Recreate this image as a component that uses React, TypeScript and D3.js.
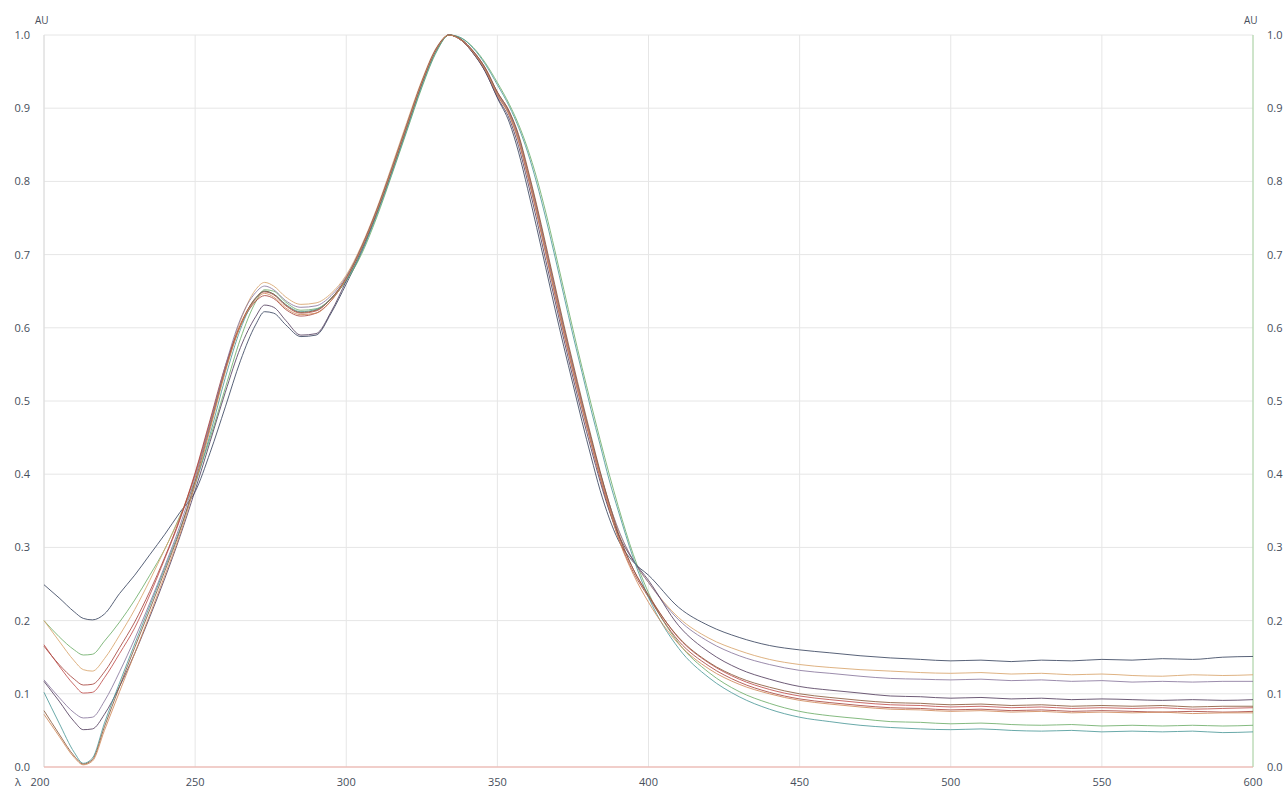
import React, { useEffect, useRef } from 'react'
import * as d3 from 'd3'

// wavelength grid shared by all spectra (nm)
const wavelengths = [200, 205, 210, 213, 216, 220, 225, 230, 235, 240, 245, 250, 255, 260, 265, 270, 273, 276, 280, 285, 290, 295, 300, 305, 310, 315, 320, 325, 330, 334, 338, 342, 346, 350, 354, 357, 360, 363, 366, 369, 372, 375, 378, 381, 384, 387, 390, 395, 400, 410, 420, 430, 440, 450, 460, 470, 480, 490, 500, 510, 520, 530, 540, 550, 560, 570, 580, 590, 600]

const spec1 = [0.249, 0.231, 0.212, 0.203, 0.201, 0.209, 0.237, 0.262, 0.29, 0.318, 0.348, 0.376, 0.43, 0.492, 0.555, 0.604, 0.622, 0.62, 0.604, 0.588, 0.59, 0.62, 0.66, 0.703, 0.755, 0.813, 0.873, 0.933, 0.981, 1.0, 0.993, 0.975, 0.95, 0.914, 0.88, 0.84, 0.79, 0.737, 0.682, 0.627, 0.574, 0.523, 0.472, 0.424, 0.378, 0.34, 0.31, 0.28, 0.262, 0.218, 0.193, 0.177, 0.166, 0.16, 0.156, 0.152, 0.149, 0.147, 0.145, 0.146, 0.144, 0.146, 0.145, 0.147, 0.146, 0.148, 0.147, 0.15, 0.151]
const spec2 = [0.2, 0.178, 0.16, 0.153, 0.154, 0.172, 0.198, 0.228, 0.262, 0.298, 0.343, 0.39, 0.45, 0.518, 0.585, 0.635, 0.652, 0.65, 0.635, 0.624, 0.626, 0.64, 0.664, 0.7, 0.75, 0.808, 0.868, 0.928, 0.978, 1.0, 0.996, 0.983, 0.962, 0.935, 0.905, 0.878, 0.845, 0.805, 0.758, 0.706, 0.652, 0.598, 0.546, 0.496, 0.447, 0.4, 0.356, 0.29, 0.238, 0.169, 0.129, 0.103, 0.087, 0.076, 0.07, 0.066, 0.062, 0.061, 0.059, 0.06, 0.058, 0.057, 0.058, 0.056, 0.057, 0.056, 0.057, 0.056, 0.057]
const spec3 = [0.2, 0.172, 0.145, 0.133, 0.131, 0.148, 0.18, 0.215, 0.255, 0.298, 0.342, 0.398, 0.468, 0.545, 0.61, 0.652, 0.662, 0.657, 0.642, 0.632, 0.634, 0.647, 0.672, 0.712, 0.762, 0.82, 0.88, 0.938, 0.984, 1.0, 0.994, 0.977, 0.953, 0.92, 0.892, 0.858, 0.81, 0.76, 0.705, 0.65, 0.596, 0.545, 0.495, 0.447, 0.402, 0.36, 0.324, 0.282, 0.252, 0.204, 0.176, 0.159, 0.147, 0.14, 0.136, 0.133, 0.131, 0.129, 0.128, 0.129, 0.127, 0.128, 0.126, 0.127, 0.125, 0.124, 0.126, 0.125, 0.126]
const spec4 = [0.167, 0.138, 0.112, 0.101, 0.102, 0.122, 0.155, 0.19, 0.235, 0.285, 0.338, 0.4, 0.472, 0.545, 0.605, 0.64, 0.649, 0.645, 0.63, 0.62, 0.623, 0.64, 0.668, 0.71, 0.76, 0.817, 0.877, 0.936, 0.983, 1.0, 0.994, 0.978, 0.955, 0.922, 0.895, 0.862, 0.815, 0.765, 0.71, 0.655, 0.6, 0.548, 0.497, 0.448, 0.4, 0.356, 0.318, 0.27, 0.235, 0.176, 0.142, 0.12, 0.106, 0.097, 0.092, 0.088, 0.085, 0.084, 0.082, 0.083, 0.081, 0.082, 0.08, 0.081, 0.08, 0.081, 0.079, 0.08, 0.081]
const spec5 = [0.165, 0.14, 0.12, 0.112, 0.113, 0.13, 0.163, 0.198, 0.24, 0.287, 0.34, 0.402, 0.475, 0.548, 0.603, 0.636, 0.644, 0.64, 0.625, 0.616, 0.62, 0.637, 0.667, 0.708, 0.757, 0.814, 0.874, 0.934, 0.982, 1.0, 0.993, 0.976, 0.952, 0.918, 0.89, 0.855, 0.808, 0.757, 0.702, 0.646, 0.592, 0.54, 0.49, 0.442, 0.395, 0.352, 0.314, 0.266, 0.232, 0.172, 0.138, 0.116, 0.102, 0.093, 0.088, 0.084, 0.081, 0.08, 0.078, 0.079, 0.077, 0.078, 0.076, 0.077, 0.076, 0.075, 0.076, 0.075, 0.076]
const spec6 = [0.119, 0.095, 0.074, 0.067, 0.068, 0.09, 0.13, 0.175, 0.224, 0.275, 0.33, 0.395, 0.47, 0.548, 0.612, 0.648, 0.657, 0.652, 0.637, 0.628, 0.63, 0.644, 0.67, 0.71, 0.76, 0.817, 0.877, 0.936, 0.983, 1.0, 0.994, 0.977, 0.954, 0.92, 0.893, 0.86, 0.812, 0.762, 0.707, 0.652, 0.598, 0.546, 0.496, 0.448, 0.402, 0.36, 0.325, 0.282, 0.252, 0.201, 0.171, 0.152, 0.14, 0.132, 0.128, 0.124, 0.121, 0.12, 0.119, 0.12, 0.118, 0.119, 0.117, 0.118, 0.116, 0.117, 0.116, 0.117, 0.117]
const spec7 = [0.117, 0.09, 0.062, 0.051, 0.052, 0.072, 0.11, 0.155, 0.205, 0.258, 0.315, 0.378, 0.445, 0.512, 0.573, 0.615, 0.631, 0.628, 0.61, 0.59, 0.592, 0.622, 0.664, 0.706, 0.757, 0.814, 0.874, 0.934, 0.982, 1.0, 0.993, 0.975, 0.95, 0.915, 0.885, 0.848, 0.8, 0.748, 0.692, 0.638, 0.584, 0.532, 0.482, 0.435, 0.39, 0.35, 0.318, 0.282, 0.255, 0.193, 0.157, 0.134, 0.12, 0.11, 0.105, 0.101, 0.097, 0.096, 0.094, 0.095, 0.093, 0.094, 0.092, 0.093, 0.092, 0.091, 0.092, 0.091, 0.092]
const spec8 = [0.102, 0.06, 0.02, 0.005, 0.012, 0.06, 0.115, 0.168, 0.22, 0.272, 0.325, 0.385, 0.455, 0.532, 0.598, 0.64, 0.65, 0.646, 0.632, 0.622, 0.625, 0.64, 0.665, 0.703, 0.753, 0.81, 0.87, 0.93, 0.979, 1.0, 0.996, 0.982, 0.96, 0.932, 0.902, 0.874, 0.84, 0.798, 0.75, 0.698, 0.644, 0.59, 0.539, 0.488, 0.44, 0.392, 0.35, 0.285, 0.232, 0.162, 0.122, 0.096, 0.079, 0.068, 0.062, 0.057, 0.054, 0.052, 0.051, 0.052, 0.05, 0.049, 0.05, 0.048, 0.049, 0.048, 0.049, 0.047, 0.048]
const spec9 = [0.077, 0.045, 0.015, 0.004, 0.01, 0.055, 0.11, 0.163, 0.215, 0.268, 0.323, 0.39, 0.465, 0.542, 0.603, 0.641, 0.65, 0.646, 0.631, 0.621, 0.624, 0.64, 0.668, 0.709, 0.759, 0.816, 0.876, 0.935, 0.982, 1.0, 0.994, 0.978, 0.955, 0.922, 0.895, 0.864, 0.818, 0.768, 0.714, 0.659, 0.604, 0.552, 0.501, 0.452, 0.404, 0.36, 0.32, 0.27, 0.234, 0.177, 0.143, 0.122, 0.109, 0.1, 0.095, 0.091, 0.088, 0.087, 0.085, 0.086, 0.084, 0.085, 0.083, 0.084, 0.083, 0.084, 0.082, 0.083, 0.083]
const spec10 = [0.072, 0.042, 0.013, 0.003, 0.008, 0.05, 0.103, 0.155, 0.208, 0.262, 0.318, 0.386, 0.462, 0.54, 0.603, 0.638, 0.647, 0.642, 0.627, 0.618, 0.62, 0.637, 0.667, 0.708, 0.758, 0.815, 0.875, 0.935, 0.982, 1.0, 0.993, 0.976, 0.952, 0.918, 0.89, 0.856, 0.81, 0.758, 0.703, 0.648, 0.594, 0.542, 0.492, 0.444, 0.397, 0.353, 0.313, 0.263, 0.225, 0.168, 0.134, 0.113, 0.1, 0.091, 0.086, 0.082, 0.079, 0.078, 0.076, 0.077, 0.075, 0.076, 0.074, 0.075, 0.074, 0.075, 0.073, 0.074, 0.074]

const spectra = [spec1, spec2, spec3, spec4, spec5, spec6, spec7, spec8, spec9, spec10]
const colors = ['#3b4660', '#6fae6a', '#d8a46c', '#c0504d', '#a8463f', '#8a789e', '#55405f', '#4f9a9a', '#8b5a3c', '#d08a5a']

const xTicks = [200, 250, 300, 350, 400, 450, 500, 550, 600]
const yTicks = [0, 0.1, 0.2, 0.3, 0.4, 0.5, 0.6, 0.7, 0.8, 0.9, 1.0]

const W = 1288
const H = 791

export default function App() {
  const ref = useRef<SVGSVGElement>(null)

  useEffect(() => {
    document.body.style.margin = '0'
    const svg = d3.select(ref.current)
    svg.selectAll('*').remove()

    const x = d3.scaleLinear().domain([200, 600]).range([44, 1253])
    const y = d3.scaleLinear().domain([0, 1]).range([767, 35])
    const font = '"Open Sans", "Noto Sans", sans-serif'
    const textColor = '#464e5b'

    // grid
    svg.append('g')
      .selectAll('line')
      .data(xTicks)
      .enter().append('line')
      .attr('x1', d => x(d)).attr('x2', d => x(d))
      .attr('y1', y(1)).attr('y2', y(0))
      .attr('stroke', '#e6e6e6')
      .attr('stroke-width', 1)

    svg.append('g')
      .selectAll('line')
      .data(yTicks)
      .enter().append('line')
      .attr('x1', x(200)).attr('x2', x(600))
      .attr('y1', d => y(d)).attr('y2', d => y(d))
      .attr('stroke', '#e6e6e6')
      .attr('stroke-width', 1)

    // axis lines
    svg.append('line')
      .attr('x1', x(200)).attr('x2', x(200))
      .attr('y1', y(1)).attr('y2', y(0))
      .attr('stroke', '#dcdcdc')
    svg.append('line')
      .attr('x1', x(600)).attr('x2', x(600))
      .attr('y1', y(1)).attr('y2', y(0))
      .attr('stroke', '#a9d6a2')

    // spectra
    const line = d3.line<number>()
      .x((d, i) => x(wavelengths[i]))
      .y(d => y(d))
      .curve(d3.curveMonotoneX)

    svg.append('g')
      .selectAll('path')
      .data(spectra)
      .enter().append('path')
      .attr('d', d => line(d))
      .attr('fill', 'none')
      .attr('stroke', (d, i) => colors[i])
      .attr('stroke-width', 1)
      .attr('stroke-opacity', 0.85)

    // baseline
    svg.append('line')
      .attr('x1', x(200)).attr('x2', x(600))
      .attr('y1', y(0)).attr('y2', y(0))
      .attr('stroke', '#f0aaa2')
      .attr('stroke-width', 1.2)

    // y labels left and right
    svg.append('g')
      .selectAll('text')
      .data(yTicks)
      .enter().append('text')
      .attr('x', 30)
      .attr('y', d => y(d) + 4)
      .attr('text-anchor', 'end')
      .attr('font-family', font)
      .attr('font-size', 11)
      .attr('fill', textColor)
      .text(d => d3.format('.1f')(d))

    svg.append('g')
      .selectAll('text')
      .data(yTicks)
      .enter().append('text')
      .attr('x', 1267)
      .attr('y', d => y(d) + 4)
      .attr('text-anchor', 'start')
      .attr('font-family', font)
      .attr('font-size', 11)
      .attr('fill', textColor)
      .text(d => d3.format('.1f')(d))

    svg.append('text')
      .attr('x', 35).attr('y', 24)
      .attr('font-family', font).attr('font-size', 10)
      .attr('fill', textColor)
      .text('AU')
    svg.append('text')
      .attr('x', 1244).attr('y', 24)
      .attr('font-family', font).attr('font-size', 10)
      .attr('fill', textColor)
      .text('AU')

    // x labels
    svg.append('g')
      .selectAll('text')
      .data(xTicks)
      .enter().append('text')
      .attr('x', d => d === 200 ? x(d) - 4 : x(d))
      .attr('y', 786)
      .attr('text-anchor', 'middle')
      .attr('font-family', font)
      .attr('font-size', 11)
      .attr('fill', textColor)
      .text(d => d)

    svg.append('text')
      .attr('x', 15).attr('y', 786)
      .attr('font-family', font).attr('font-size', 11)
      .attr('fill', textColor)
      .text('λ')
  }, [])

  return (
    <svg ref={ref} width={W} height={H}
      style={{ position: 'absolute', left: 0, top: 0, display: 'block', background: '#fff' }} />
  )
}
